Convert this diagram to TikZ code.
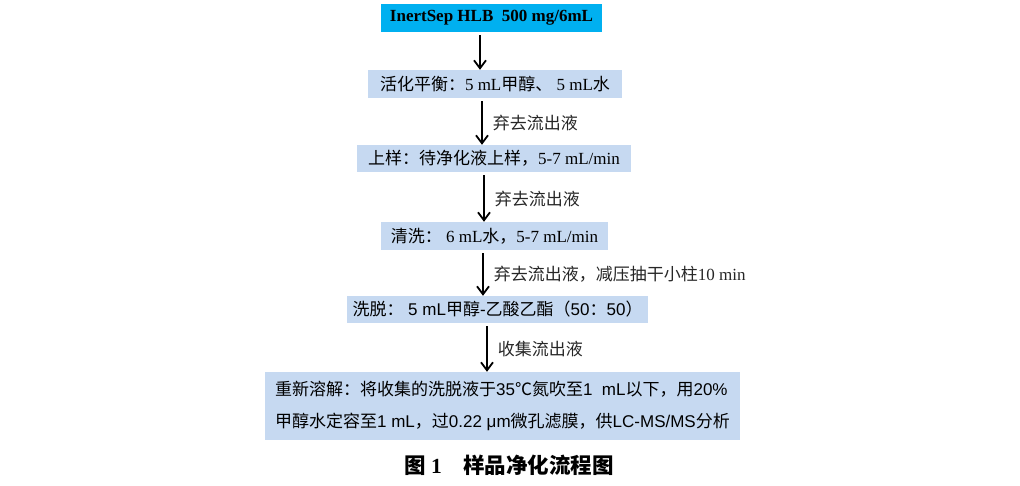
\documentclass[tikz,border=0pt]{standalone}
\usepackage{fontspec}
\setmainfont{Liberation Serif}
\newfontfamily\cjk{Noto Sans CJK SC}
\newfontfamily\arial{Liberation Sans}
\usetikzlibrary{arrows.meta, positioning, calc}
\definecolor{cartCyan}{RGB}{0, 176, 240}
\definecolor{stepBlue}{RGB}{198, 217, 241}
\newcommand{\zh}[1]{{\cjk #1}}

\begin{document}
\begin{tikzpicture}[x=1pt, y=-1pt,
    stepbox/.style={fill=stepBlue, inner sep=0pt, minimum height=28pt, font=\fontsize{17}{20}\selectfont},
    flowarrow/.style={line width=1.8pt, -{Straight Barb[length=8pt, width=12pt]}},
    note/.style={right=10pt, inner sep=0pt, text=black!85, font=\fontsize{17}{20}\selectfont}]
    \useasboundingbox (0,0) rectangle (1020,486);

    % Steps
    \node[stepbox, fill=cartCyan, minimum width=221pt] (b1) at (491.5,18) {\textbf{InertSep HLB\ \ 500 mg/6mL}};
    \node[stepbox, minimum width=254pt] (b2) at (495,84) {\zh{活化平衡：}5 mL\zh{甲醇、} 5 mL\zh{水}};
    \node[stepbox, minimum width=274pt, minimum height=27pt] (b3) at (494,158.5) {\zh{上样：待净化液上样，}5-7 mL/min};
    \node[stepbox, minimum width=227pt] (b4) at (494.5,236) {\zh{清洗：} 6 mL\zh{水，}5-7 mL/min};
    \node[stepbox, minimum width=301pt, minimum height=27pt, font=\arial\fontsize{17}{20}\selectfont] (b5) at (497.5,309.5)
        {\zh{洗脱：} 5 mL\zh{甲醇}-\zh{乙酸乙酯（}50\zh{：}50\zh{）}};
    \node[stepbox, minimum width=475pt, minimum height=68pt, align=left, font=\arial\fontsize{17}{32}\selectfont] (b6) at (502.5,406)
        {\zh{重新溶解：将收集的洗脱液于}35\zh{℃氮吹至}1\ \ mL\zh{以下，用}20\%\\
         \zh{甲醇水定容至}1 mL\zh{，过}0.22 μm\zh{微孔滤膜，供}LC-MS/MS\zh{分析}};

    % Arrows
    \draw[flowarrow] ([xshift=-11.5pt, yshift=-3pt]b1.south) coordinate (s1) -- (s1 |- b2.north);
    \foreach \up/\down/\dx/\txt in {
        b2/b3/-13/{\zh{弃去流出液}},
        b3/b4/-10/{\zh{弃去流出液}},
        b4/b5/-11.5/{\zh{弃去流出液，减压抽干小柱}10 min},
        b5/b6/-10.5/{\zh{收集流出液}}
    } {
        \draw[flowarrow] ([xshift=\dx pt, yshift=-3pt]\up.south) coordinate (s) -- (s |- \down.north)
            node[note, midway] {\txt};
    }

    % Caption
    \node[font=\fontsize{21.5}{24}\selectfont\bfseries] (cap) at (509,465) {\zh{图} 1\quad\zh{样品净化流程图}};

\end{tikzpicture}
\end{document}
